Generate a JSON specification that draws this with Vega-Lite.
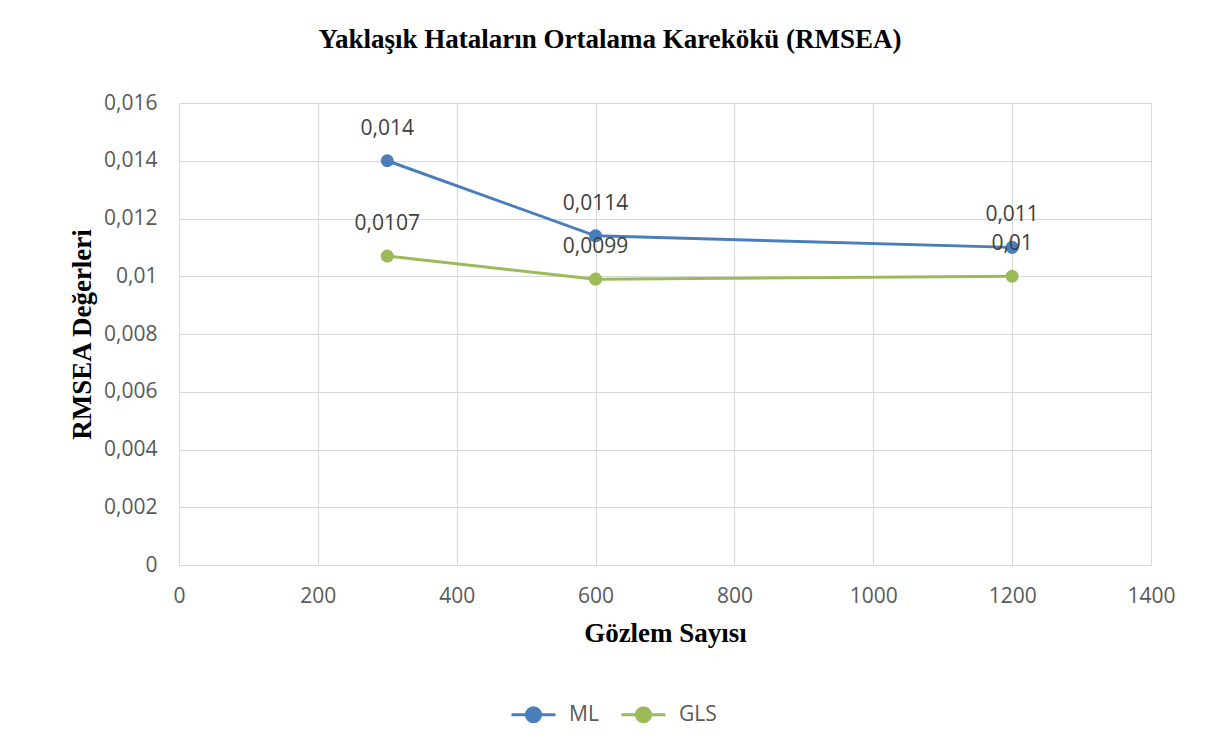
{
  "$schema": "https://vega.github.io/schema/vega-lite/v6.json",
  "width": 972,
  "height": 462,
  "autosize": {"type": "none"},
  "padding": {"left": 179, "top": 103, "right": 74, "bottom": 188},
  "background": "white",
  "title": {
    "text": "Yaklaşık Hataların Ortalama Karekökü (RMSEA)",
    "font": "Liberation Serif",
    "fontSize": 27,
    "fontWeight": "bold",
    "color": "#000000",
    "anchor": "middle",
    "dx": -55,
    "offset": 38
  },
  "data": {
    "values": [
      {"n": 300, "v": 0.014, "s": "ML"},
      {"n": 600, "v": 0.0114, "s": "ML"},
      {"n": 1200, "v": 0.011, "s": "ML"},
      {"n": 300, "v": 0.0107, "s": "GLS"},
      {"n": 600, "v": 0.0099, "s": "GLS"},
      {"n": 1200, "v": 0.01, "s": "GLS"}
    ]
  },
  "transform": [{"calculate": "replace(toString(datum.v), '.', ',')", "as": "lab"}],
  "encoding": {
    "x": {
      "field": "n",
      "type": "quantitative",
      "scale": {"domain": [0, 1400], "nice": false, "zero": true},
      "axis": {
        "title": "Gözlem Sayısı",
        "values": [0, 200, 400, 600, 800, 1000, 1200, 1400],
        "format": "d",
        "labelFlush": false,
        "labelPadding": 20,
        "titlePadding": 14
      }
    },
    "y": {
      "field": "v",
      "type": "quantitative",
      "scale": {"domain": [0, 0.016], "nice": false},
      "axis": {
        "title": "RMSEA Değerleri",
        "values": [0, 0.002, 0.004, 0.006, 0.008, 0.01, 0.012, 0.014, 0.016],
        "labelExpr": "replace(toString(datum.value), '.', ',')",
        "labelFlush": false,
        "labelPadding": 22,
        "titlePadding": 7
      }
    },
    "color": {
      "field": "s",
      "type": "nominal",
      "scale": {"domain": ["ML", "GLS"], "range": ["#4A7EBB", "#9BBB59"]},
      "legend": {
        "title": null,
        "orient": "none",
        "direction": "horizontal",
        "legendX": 331,
        "legendY": 588,
        "symbolType": "M-1,0L1,0M0.32,0A0.32,0.32,0,1,1,-0.32,0A0.32,0.32,0,1,1,0.32,0Z",
        "symbolSize": 1936,
        "symbolStrokeWidth": 3,
        "labelFont": "Open Sans",
        "labelFontSize": 21,
        "labelColor": "#595959",
        "columnPadding": 16,
        "labelOffset": 12,
        "encode": {
          "symbols": {
            "update": {
              "fill": {"signal": "scale('color', datum.value)"},
              "stroke": {"signal": "scale('color', datum.value)"},
              "fillOpacity": {"value": 1}
            }
          }
        }
      }
    }
  },
  "layer": [
    {"mark": {"type": "line", "strokeWidth": 3}},
    {"mark": {"type": "point", "filled": true, "size": 170, "opacity": 1}},
    {
      "mark": {
        "type": "text",
        "font": "Open Sans",
        "fontSize": 21,
        "color": "#404040",
        "baseline": "middle",
        "dy": -32
      },
      "encoding": {"text": {"field": "lab"}, "color": {"value": "#404040"}}
    }
  ],
  "config": {
    "view": {"stroke": null},
    "axis": {
      "grid": true,
      "gridColor": "#d9d9d9",
      "gridWidth": 1,
      "domain": false,
      "ticks": false,
      "labelFont": "Open Sans",
      "labelFontSize": 21,
      "labelColor": "#595959",
      "titleFont": "Liberation Serif",
      "titleFontSize": 27,
      "titleFontWeight": "bold",
      "titleColor": "#000000"
    }
  }
}
